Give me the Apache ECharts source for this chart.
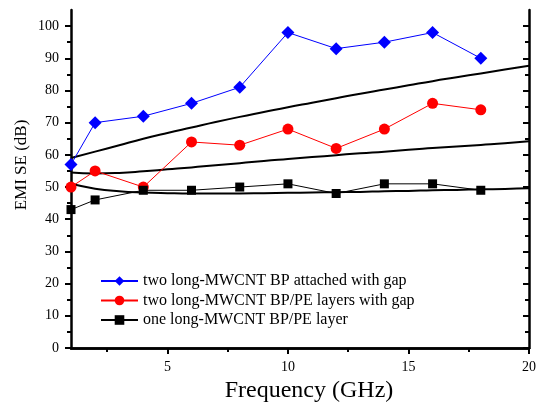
<!DOCTYPE html>
<html><head><meta charset="utf-8">
<script src="https://cdn.jsdelivr.net/npm/echarts@6/dist/echarts.min.js"></script>
<style>html,body{margin:0;padding:0;background:#fff}#c{width:538px;height:405px}</style>
</head><body><div id="c"></div>
<script>
const freq = [1, 2, 4, 6, 8, 10, 12, 14, 16, 18];
const seAttachedGap = [57, 70, 72, 76, 81, 98, 93, 95, 98, 90];
const seLayersGap = [50, 55, 50, 64, 63, 68, 62, 68, 76, 74];
const seOneLayer = [43, 46, 49, 49, 50, 51, 48, 51, 51, 49];
const curveFreq = [1,2,3,4,5,6,7,8,9,10,11,12,13,14,15,16,17,18,19,20];
const curveTop = [59,61,63,65,66.8,68.5,70.2,71.8,73.3,74.8,76.2,77.6,79,80.3,81.6,82.9,84.1,85.3,86.5,87.7];
const curveMid = [54.5,54.2,54.4,54.9,55.5,56.1,56.8,57.4,58.1,58.7,59.3,59.9,60.5,61,61.6,62.1,62.6,63.1,63.6,64.2];
const curveLow = [51,49.5,48.7,48.3,48.1,48,48,48,48.1,48.2,48.3,48.4,48.5,48.7,48.8,49,49.1,49.3,49.4,49.6];
const xMajor = [5, 10, 15, 20];
const xMinor = [2.5, 7.5, 12.5, 17.5];
const yMajor = [0,10,20,30,40,50,60,70,80,90,100];
const yMinor = [5,15,25,35,45,55,65,75,85,95];
const names = ['two long-MWCNT BP attached with gap','two long-MWCNT BP/PE layers with gap','one long-MWCNT BP/PE layer'];

const FONT = 'Liberation Serif';
const pair = (xs, ys) => xs.map((x, i) => [x, ys[i]]);
const axisLine = {show: true, lineStyle: {color: '#000', width: 2.5}};
function xAx(pos, vals, len, inside, showLine, labels, extra) {
  return Object.assign({
    type: 'value', position: pos, min: 1, max: 20,
    axisLine: showLine ? axisLine : {show: false},
    axisTick: {show: true, customValues: vals, length: len, inside: inside, lineStyle: {color: '#000', width: 2}},
    axisLabel: labels ? {show: true, customValues: vals, fontFamily: FONT, fontSize: 14, color: '#000', margin: 12} : {show: false},
    splitLine: {show: false}
  }, extra || {});
}
function yAx(pos, vals, len, inside, showLine, labels, extra) {
  return Object.assign({
    type: 'value', position: pos, min: 0, max: 105,
    axisLine: showLine ? axisLine : {show: false},
    axisTick: {show: true, customValues: vals, length: len, inside: inside, lineStyle: {color: '#000', width: 2}},
    axisLabel: labels ? {show: true, customValues: vals, fontFamily: FONT, fontSize: 14, color: '#000', margin: 12} : {show: false},
    splitLine: {show: false}
  }, extra || {});
}
const chart = echarts.init(document.getElementById('c'));
chart.setOption({
  backgroundColor: '#fff',
  animation: false,
  grid: {left: 71, right: 9, top: 10, bottom: 57, containLabel: false, outerBoundsMode: 'none'},
  legend: {
    orient: 'vertical', left: 95, top: 268, data: names,
    itemWidth: 37, itemHeight: 12, itemGap: 3.5,
    textStyle: {fontFamily: FONT, fontSize: 16, color: '#000'}
  },
  xAxis: [
    xAx('bottom', xMajor, 6, false, true, true, {
      name: 'Frequency (GHz)', nameLocation: 'middle', nameGap: 31, nameMoveOverlap: false,
      nameTextStyle: {fontFamily: FONT, fontSize: 24, color: '#000', padding: [0, 0, 0, 18]}
    }),
    xAx('bottom', xMinor, 4, false, false, false),
    xAx('top', xMajor, 6, true, true, false),
    xAx('top', xMinor, 4, true, false, false)
  ],
  yAxis: [
    yAx('left', yMajor, 6, false, true, true, {
      name: 'EMI SE (dB)', nameLocation: 'middle', nameGap: 41, nameMoveOverlap: false,
      nameTextStyle: {fontFamily: FONT, fontSize: 17, color: '#000', padding: [0, 0, 0, 28]}
    }),
    yAx('left', yMinor, 4, false, false, false),
    yAx('right', yMajor, 6, true, true, false),
    yAx('right', yMinor, 4, true, false, false)
  ],
  series: [
    {name: 'curveTop', type: 'line', data: pair(curveFreq, curveTop), smooth: true, showSymbol: false, lineStyle: {color: '#000', width: 2}, itemStyle: {color: '#000'}, z: 1},
    {name: 'curveMid', type: 'line', data: pair(curveFreq, curveMid), smooth: true, showSymbol: false, lineStyle: {color: '#000', width: 2}, itemStyle: {color: '#000'}, z: 1},
    {name: 'curveLow', type: 'line', data: pair(curveFreq, curveLow), smooth: true, showSymbol: false, lineStyle: {color: '#000', width: 2}, itemStyle: {color: '#000'}, z: 1},
    {name: names[0], type: 'line', data: pair(freq, seAttachedGap), symbol: 'diamond', symbolSize: 13,
      lineStyle: {color: '#0000ff', width: 1}, itemStyle: {color: '#0000ff'}, z: 3},
    {name: names[1], type: 'line', data: pair(freq, seLayersGap), symbol: 'circle', symbolSize: 11,
      lineStyle: {color: '#ff0000', width: 1}, itemStyle: {color: '#ff0000'}, z: 3},
    {name: names[2], type: 'line', data: pair(freq, seOneLayer), symbol: 'rect', symbolSize: 9,
      lineStyle: {color: '#000', width: 1}, itemStyle: {color: '#000'}, z: 3}
  ]
});
</script></body></html>
